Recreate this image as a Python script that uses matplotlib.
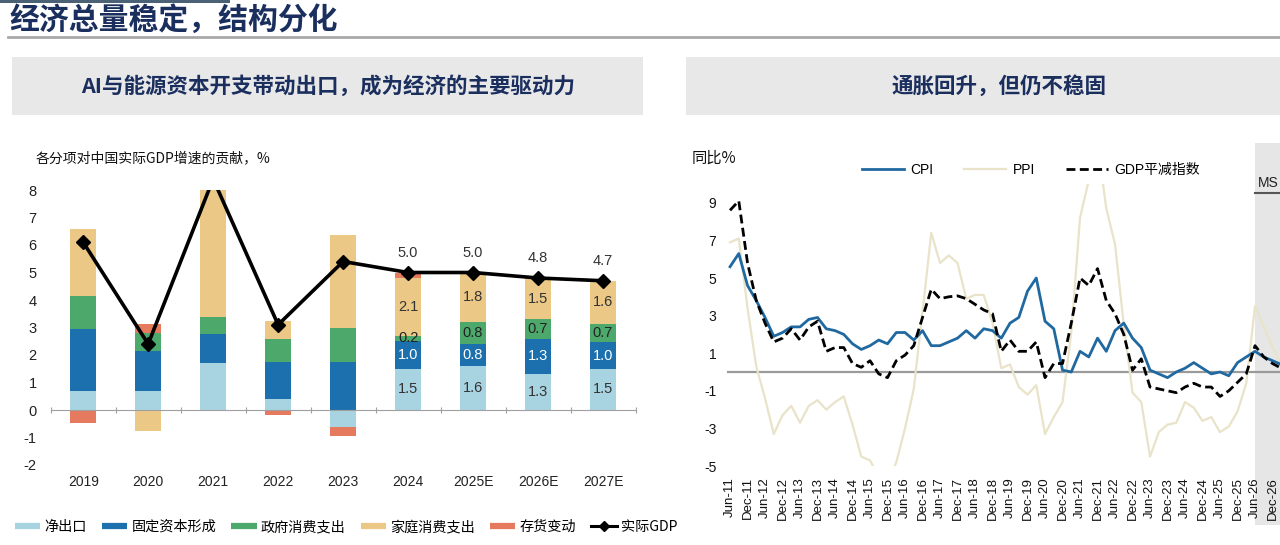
import matplotlib
matplotlib.use('Agg')
import matplotlib.pyplot as plt
from matplotlib import font_manager
from matplotlib.lines import Line2D
from matplotlib.patches import Rectangle
import numpy as np

# ---------------- data: left chart ----------------
categories = ['2019', '2020', '2021', '2022', '2023', '2024', '2025E', '2026E', '2027E']
net_exports = [0.7, 0.7, 1.7, 0.4, -0.6, 1.5, 1.6, 1.3, 1.5]
fixed_capital = [2.25, 1.45, 1.05, 1.33, 1.76, 1.0, 0.8, 1.3, 0.96]
government = [1.2, 0.66, 0.63, 0.86, 1.22, 0.2, 0.8, 0.7, 0.66]
household = [2.42, -0.75, 5.0, 0.66, 3.39, 2.1, 1.8, 1.5, 1.58]
inventory = [-0.48, 0.33, 0.0, -0.18, -0.36, 0.2, 0.0, 0.0, 0.0]
real_gdp = [6.1, 2.4, 8.4, 3.1, 5.4, 5.0, 5.0, 4.8, 4.7]
series_names = ['净出口', '固定资本形成', '政府消费支出', '家庭消费支出', '存货变动']
labelled_years = [5, 6, 7, 8]

# ---------------- data: right chart (quarterly, Jun-11 ... Mar-27) ----------------
cpi = [5.6, 6.3, 4.6, 3.8, 2.9, 1.9, 2.1, 2.4, 2.4, 2.8, 2.9, 2.3, 2.2, 2.0, 1.5, 1.2,
       1.4, 1.7, 1.5, 2.1, 2.1, 1.7, 2.2, 1.4, 1.4, 1.6, 1.8, 2.2, 1.8, 2.3, 2.2, 1.8,
       2.6, 2.9, 4.3, 5.0, 2.7, 2.3, 0.1, 0.0, 1.1, 0.8, 1.8, 1.1, 2.2, 2.6, 1.8, 1.3,
       0.1, -0.1, -0.3, 0.0, 0.2, 0.5, 0.2, -0.1, 0.0, -0.2, 0.5, 0.8, 1.1, 0.8, 0.6, 0.4]
ppi = [6.9, 7.1, 3.4, 0.3, -1.4, -3.3, -2.3, -1.8, -2.7, -1.8, -1.5, -2.0, -1.6, -1.3, -2.8, -4.5,
       -4.7, -5.6, -5.9, -4.8, -3.0, -0.9, 3.2, 7.4, 5.8, 6.2, 5.8, 3.9, 4.1, 4.1, 2.6, 0.2,
       0.4, -0.8, -1.2, -0.7, -3.3, -2.4, -1.6, 2.1, 8.2, 10.2, 12.2, 8.7, 6.8, 2.5, -1.1, -1.6,
       -4.5, -3.2, -2.8, -2.7, -1.6, -1.9, -2.6, -2.4, -3.2, -2.9, -2.1, -0.6, 3.5, 2.4, 1.3, 0.4]
deflator = [8.6, 9.1, 5.8, 3.8, 2.6, 1.6, 1.8, 2.3, 1.7, 2.4, 2.7, 1.1, 1.3, 1.3, 0.45, 0.25,
            0.6, -0.1, -0.3, 0.6, 0.9, 1.4, 2.9, 4.4, 3.9, 4.0, 4.05, 3.9, 3.6, 3.3, 3.1, 1.1,
            1.7, 1.1, 1.1, 1.6, -0.3, 0.45, 0.45, 2.6, 5.0, 4.6, 5.5, 3.8, 3.1, 2.0, 0.1, 0.7,
            -0.8, -0.9, -1.0, -1.1, -0.8, -0.6, -0.8, -0.8, -1.3, -1.0, -0.55, -0.1, 1.4, 0.8, 0.45, 0.2]
date_labels = ['Jun-11', 'Dec-11', 'Jun-12', 'Dec-12', 'Jun-13', 'Dec-13', 'Jun-14', 'Dec-14',
               'Jun-15', 'Dec-15', 'Jun-16', 'Dec-16', 'Jun-17', 'Dec-17', 'Jun-18', 'Dec-18',
               'Jun-19', 'Dec-19', 'Jun-20', 'Dec-20', 'Jun-21', 'Dec-21', 'Jun-22', 'Dec-22',
               'Jun-23', 'Dec-23', 'Jun-24', 'Dec-24', 'Jun-25', 'Dec-25', 'Jun-26', 'Dec-26']
forecast_start = 60.05

# ---------------- fonts ----------------
names = {f.name for f in font_manager.fontManager.ttflist}
CJK = ['Noto Sans CJK SC', 'DejaVu Sans']
SANS = ['Liberation Sans', 'DejaVu Sans']
if 'Liberation Sans Narrow' in names:
    NARROW = ['Liberation Sans Narrow', 'DejaVu Sans']
    nsize = 10.5
else:
    NARROW = ['Liberation Sans', 'DejaVu Sans']
    nsize = 9.5

W, H = 1280, 545
NAVY = '#1B2F5E'


def fx(x):
    return x / W


def fy(y):
    return 1 - y / H


fig = plt.figure(figsize=(12.8, 5.45), dpi=100)

# ---------------- header ----------------
fig.patches.append(Rectangle((0, fy(3)), fx(230), 3 / H, transform=fig.transFigure,
                             facecolor='#4A6176', edgecolor='none'))
fig.lines.append(Line2D([fx(8), 1.0], [fy(37), fy(37)], transform=fig.transFigure,
                        color='#A8A8A8', lw=2))
fig.text(fx(9), fy(20), '经济总量稳定，结构分化', family=CJK, fontsize=21.5,
         fontweight='bold', color=NAVY, va='center', ha='left')
fig.patches.append(Rectangle((fx(12), fy(115)), fx(631), 58 / H, transform=fig.transFigure,
                             facecolor='#E8E8E9', edgecolor='none'))
fig.patches.append(Rectangle((fx(686), fy(115)), fx(600), 58 / H, transform=fig.transFigure,
                             facecolor='#E8E8E9', edgecolor='none'))
fig.text(fx(328), fy(86), 'AI与能源资本开支带动出口，成为经济的主要驱动力', family=CJK,
         fontsize=15.5, fontweight='bold', color=NAVY, ha='center', va='center')
fig.text(fx(999), fy(86), '通胀回升，但仍不稳固', family=CJK,
         fontsize=15.5, fontweight='bold', color=NAVY, ha='center', va='center')

# ---------------- left chart ----------------
colors = ['#A8D3E0', '#1C70AD', '#4DA96B', '#EBC886', '#E57A5F']
label_colors = ['#333333', 'white', '#222222', '#333333']
ax1 = fig.add_axes([fx(50.7), fy(465), fx(584.8), 275 / H])
ax1.set_xlim(-0.5, 8.5)
ax1.set_ylim(-2, 8)
x = np.arange(len(categories))
pos_bottom = np.zeros(len(x))
neg_bottom = np.zeros(len(x))
series = [net_exports, fixed_capital, government, household, inventory]
segs = []
for k, vals in enumerate(series):
    vals = np.array(vals, dtype=float)
    bottoms = np.where(vals >= 0, pos_bottom, neg_bottom)
    ax1.bar(x, vals, 0.4, bottom=bottoms, color=colors[k], zorder=2, linewidth=0)
    segs.append((bottoms.copy(), vals.copy()))
    pos_bottom = pos_bottom + np.where(vals >= 0, vals, 0)
    neg_bottom = neg_bottom + np.where(vals < 0, vals, 0)

for k in range(4):
    bottoms, vals = segs[k]
    for i in labelled_years:
        ax1.text(i, bottoms[i] + vals[i] / 2, f'{vals[i]:.1f}', ha='center', va='center',
                 family=SANS, fontsize=10.5, color=label_colors[k], zorder=6)

ax1.plot(x, real_gdp, color='black', lw=2.6, marker='D', ms=7, zorder=5)
for i in labelled_years:
    ax1.text(i, real_gdp[i] + 0.72, f'{real_gdp[i]:.1f}', ha='center', va='center',
             family=SANS, fontsize=10.5, color='#333333')

for s in ['top', 'right', 'left']:
    ax1.spines[s].set_visible(False)
ax1.spines['bottom'].set_position(('data', 0))
ax1.spines['bottom'].set_color('#A0A0A0')
ax1.set_xticks(np.arange(-0.5, 9.0, 1.0))
ax1.set_xticklabels([])
ax1.tick_params(axis='x', direction='inout', length=5, color='#A0A0A0')
ax1.set_yticks(range(-2, 9))
ax1.set_yticklabels([str(v) for v in range(-2, 9)], family=SANS, fontsize=10.5, color='#222222')
ax1.tick_params(axis='y', length=0, pad=10)
for i, c in enumerate(categories):
    ax1.text(i, -2.6, c, ha='center', va='center', family=SANS, fontsize=10, color='#222222')
ax1.set_facecolor('none')

fig.text(fx(36), fy(158), '各分项对中国实际GDP增速的贡献，%', family=CJK, fontsize=10,
         color='#111111', va='center')

handles = [Line2D([0], [0], color=c, lw=4.5, solid_capstyle='butt') for c in colors]
handles.append(Line2D([0], [0], color='black', lw=2.2, marker='D', ms=5))
fig.legend(handles, series_names + ['实际GDP'], loc='center', ncol=6,
           bbox_to_anchor=(fx(346), fy(527)), frameon=False,
           prop={'family': CJK, 'size': 10.2}, handlelength=1.8, handletextpad=0.3,
           columnspacing=1.05, borderpad=0, borderaxespad=0)

# ---------------- right chart ----------------
ax2 = fig.add_axes([fx(727.4), fy(466), fx(567), 282 / H])
ax2.set_xlim(-0.3, 64.5)
ax2.set_ylim(-5, 10)
ax2.set_facecolor('none')
q = np.arange(len(cpi))
ax2.axvspan(forecast_start, 70, ymin=-0.21, ymax=1.145, facecolor='#E6E6E6',
            edgecolor='none', clip_on=False, zorder=0)
ax2.axhline(0, color='#9A9A9A', lw=1.6, zorder=1)
ax2.plot(q, ppi, color='#E9E3C9', lw=1.6, zorder=2, label='PPI')
ax2.plot(q, cpi, color='#1F69A0', lw=2.0, zorder=3, label='CPI')
ax2.plot(q, deflator, color='black', lw=2.0, ls=(0, (3.2, 1.6)), zorder=4, label='GDP平减指数')
for s in ax2.spines.values():
    s.set_visible(False)
ax2.set_xticks(np.arange(0, 63, 2))
ax2.set_xticklabels(date_labels, rotation=90, family=NARROW, fontsize=nsize, color='#111111')
ax2.set_yticks(range(-5, 10, 2))
ax2.set_yticklabels([str(v) for v in range(-5, 10, 2)], family=NARROW, fontsize=nsize + 0.5,
                    color='#111111')
ax2.tick_params(axis='x', length=0, pad=8)
ax2.tick_params(axis='y', length=0, pad=8)

fig.text(fx(692), fy(158), '同比%', family=CJK, fontsize=11, color='#111111', va='center')
fig.text(fx(1279), fy(183), 'MS', family=NARROW, fontsize=nsize + 0.5, color='#222222',
         va='center', ha='right')
fig.lines.append(Line2D([fx(1255), 1.0], [fy(193), fy(193)], transform=fig.transFigure,
                        color='#555555', lw=1.5))

rh = [Line2D([0], [0], color='#1F69A0', lw=2.0),
      Line2D([0], [0], color='#E9E3C9', lw=1.6),
      Line2D([0], [0], color='black', lw=2.0, ls=(0, (3.2, 1.6)))]
fig.legend(rh, ['CPI', 'PPI', 'GDP平减指数'], loc='center left', ncol=3,
           bbox_to_anchor=(fx(862), fy(170)), frameon=False,
           prop={'family': [NARROW[0], 'Noto Sans CJK SC', 'DejaVu Sans'], 'size': 10},
           handlelength=3.0, handletextpad=0.5, columnspacing=2.2,
           borderpad=0, borderaxespad=0)

fig.savefig('out.png', dpi=100)
